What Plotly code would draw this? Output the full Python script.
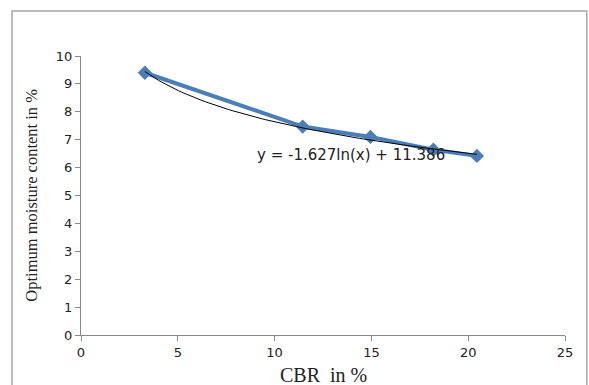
import numpy as np
import plotly.graph_objects as go

cbr = [3.3, 11.45, 14.95, 18.2, 20.45]
omc = [9.4, 7.47, 7.1, 6.64, 6.42]
coef_a = -1.627
coef_b = 11.386
x_ticks = [0, 5, 10, 15, 20, 25]
y_ticks = [0, 1, 2, 3, 4, 5, 6, 7, 8, 9, 10]

xt = np.linspace(min(cbr), max(cbr), 100)
yt = coef_a * np.log(xt) + coef_b

fig = go.Figure()
fig.add_trace(go.Scatter(x=cbr, y=omc, mode="lines+markers",
                         line=dict(color="#4a7ebb", width=4),
                         marker=dict(symbol="diamond", size=11, color="#4a7ebb")))
fig.add_trace(go.Scatter(x=xt, y=yt, mode="lines", line=dict(color="black", width=1)))

axis_common = dict(showgrid=False, zeroline=False, showline=True, linecolor="#888888", linewidth=1,
                   ticks="outside", ticklen=5, tickcolor="#888888",
                   tickfont=dict(family="DejaVu Sans", size=13, color="#222222"))
fig.update_xaxes(range=[0, 25], tickvals=x_ticks, **axis_common)
fig.update_yaxes(range=[0, 10], tickvals=y_ticks, **axis_common)

fig.update_layout(
    width=589, height=385, showlegend=False,
    margin=dict(l=81, r=24, t=56, b=50),
    plot_bgcolor="white", paper_bgcolor="white",
    shapes=[dict(type="rect", xref="paper", yref="paper", x0=-0.1426, x1=1.045, y0=-0.25, y1=1.161,
                 line=dict(color="#a6a6a6", width=1.5), layer="below")],
    annotations=[
        dict(text="y = -1.627ln(x) + 11.386", x=9.0, y=6.45, xref="x", yref="y", xanchor="left",
             yanchor="middle", showarrow=False, font=dict(family="DejaVu Sans", size=15, color="#222222")),
        dict(text="CBR  in %", x=0.5, y=-0.143, xref="paper", yref="paper", xanchor="center",
             yanchor="middle", showarrow=False, font=dict(family="Liberation Serif", size=20, color="#222222")),
        dict(text="Optimum moisture content in %", x=-0.103, y=0.5, xref="paper", yref="paper",
             xanchor="center", yanchor="middle", textangle=-90, showarrow=False,
             font=dict(family="Liberation Serif", size=16.5, color="#222222")),
    ],
)
fig.write_html("out.html", config={"displayModeBar": False},
               post_script="document.body.style.margin='0';document.body.style.overflow='hidden';")
